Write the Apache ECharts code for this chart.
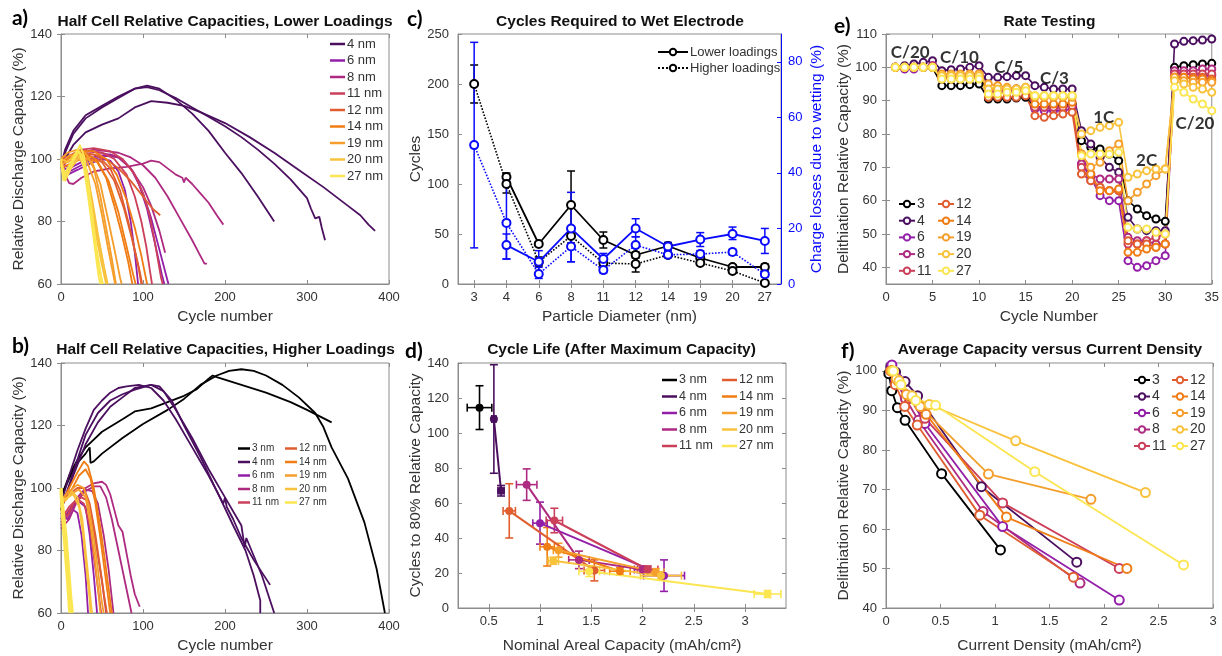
<!DOCTYPE html>
<html><head><meta charset="utf-8">
<script src="https://cdn.jsdelivr.net/npm/echarts@6/dist/echarts.min.js"></script>
<style>html,body{margin:0;padding:0;background:#fff}#c{width:1222px;height:656px}</style>
</head><body><div id="c"></div>
<script>
// ---------------- DATA ----------------
// Panel a: half cell relative capacities, lower loadings  [cycle, %]
const lowLoad4nm = [
 [[0,98],[5,102],[15,108],[30,113],[50,116.5],[70,119.5],[90,122.5],[105,123.5],[120,122.5],[140,119],[160,114.5],[180,109],[200,102],[220,95.5],[240,88],[260,80]],
 [[0,98],[5,103],[15,109],[30,114],[50,117],[70,120],[90,122.5],[105,123],[120,122],[140,119.5],[160,116.5],[180,113.5],[200,110.5],[220,107],[240,103],[260,98.5],[280,93.5],[300,87.5],[305,84],[310,81],[315,81.5],[318,78],[322,74]],
 [[0,97],[5,100],[15,104.5],[30,108.5],[50,111],[70,113],[90,116.5],[110,118.5],[130,118],[150,117],[170,115],[200,111.5],[230,107],[260,102],[290,96.5],[320,91],[350,85],[365,82],[375,79],[383,77]]
];
const lowLoad6nm = [
 [[0,97],[8,95],[20,96.5],[35,98.5],[50,100],[60,99.5],[70,96],[78,90],[85,80],[90,70],[94,60]],
 [[0,98],[10,96],[25,98],[40,100],[55,101],[70,100.5],[85,97],[95,92],[105,84],[112,76],[118,69],[123,63],[126,60]],
 [[0,99],[10,97],[25,99],[45,101],[60,101.5],[75,100],[88,96],[100,89],[110,81],[118,73],[125,66],[131,60]]
];
const lowLoad8nm = [
 [[0,99],[5,95],[10,92.3],[15,92],[25,94],[40,96],[60,97],[80,97.5],[100,98.5],[110,99.5],[120,99],[130,97],[140,95],[148,94],[150,92.5],[152,94],[160,92],[170,89],[180,86],[190,82],[198,79]],
 [[0,98],[10,100],[25,102],[40,103],[55,102.5],[70,102],[85,100.5],[100,98],[115,94],[130,88],[145,81],[160,74],[170,69],[175,66.5],[178,66.5]],
 [[0,98],[15,101],[30,102.5],[50,102],[70,100.5],[85,97],[100,91],[110,85],[120,77],[127,70]]
];
const lowLoad11nm = [
 [[0,100],[10,101],[25,103],[40,103.5],[60,102.5],[75,100],[90,95],[100,89],[108,82],[114,74],[118,68],[122,62],[124,60]],
 [[0,99],[15,101],[30,102.5],[50,102],[65,100],[80,95],[90,88],[98,80],[104,72],[108,65],[111,60]]
];
const lowLoad12nm = [
 [[0,98],[10,100],[25,101.5],[40,101.5],[55,100],[70,97],[85,93],[100,88],[112,84],[121,82]],
 [[0,99],[15,101.5],[30,102],[45,101],[60,97],[72,90],[82,80],[90,71],[96,64],[99,60]],
 [[0,98],[15,100],[35,101],[50,99],[65,93],[77,84],[86,75],[94,66],[98,60]]
];
const lowLoad14nm = [
 [[0,99],[10,101],[25,102.5],[40,102.5],[55,100],[68,95],[80,87],[90,78],[98,69],[105,60]],
 [[0,98],[12,100],[28,101.5],[42,100],[55,94],[65,85],[74,76],[82,67],[87,60]],
 [[0,97],[15,99],[30,100.5],[45,99],[58,93],[70,83],[80,72],[88,63],[91,60]]
];
const lowLoad19nm = [
 [[0,100],[8,102],[20,103],[30,102],[40,97],[48,88],[55,78],[62,68],[67,60]],
 [[0,99],[10,101],[22,101.5],[32,99],[42,92],[50,82],[57,72],[63,64],[66,60]],
 [[0,98],[10,100],[25,101],[38,99],[48,92],[58,80],[66,70],[72,62],[74,60]]
];
const lowLoad20nm = [
 [[0,99],[6,95],[12,98],[20,101],[26,100],[32,94],[38,84],[44,74],[50,66],[55,60]],
 [[0,100],[8,99],[18,102],[25,101.5],[32,96],[38,86],[45,75],[52,66],[57,60]],
 [[0,98],[5,93],[12,97],[22,100.5],[30,97],[38,87],[45,76],[52,66],[56,60]]
];
const lowLoad27nm = [
 [[0,100],[4,93],[10,96],[18,101],[23,104.5],[28,101],[33,93],[38,83],[43,72],[48,64],[51,60]],
 [[0,99],[3,93],[8,97],[15,100],[22,102.5],[28,97],[33,88],[38,78],[42,70],[46,62],[48,60]],
 [[0,98],[5,95],[12,99],[20,103],[26,101],[32,92],[37,82],[42,73],[46,65],[50,60]]
];

// Panel b: higher loadings
const highLoad3nm = [
 [[0,97],[10,103],[20,108],[30,111],[35,113],[36,108],[40,108.5],[50,111],[75,116],[100,120.5],[130,125],[150,128.5],[170,133],[190,136],[205,137.5],[220,138],[235,137.5],[250,136],[270,133],[290,129],[310,124],[320,119.5],[330,113],[350,103],[370,89],[385,74],[395,60]],
 [[0,97],[10,104],[20,109],[30,113],[50,118],[75,122],[90,124.5],[110,125.5],[130,127.5],[150,129.5],[165,131.5],[180,135],[185,136],[190,135.5],[220,133],[250,130.5],[280,127.5],[300,125],[315,123],[330,121]]
];
const highLoad4nm = [
 [[0,95],[10,104],[20,112],[30,119],[40,125],[50,128],[60,130.5],[70,132],[80,132.5],[95,133],[110,132],[125,128],[140,122],[160,113],[180,104],[198,95],[200,97],[202,94],[210,90],[220,84],[235,77],[255,69]],
 [[0,93],[15,105],[30,117],[45,124],[60,128],[75,130],[90,131.5],[110,133],[120,132.5],[135,128],[150,120],[170,110],[190,99],[210,88],[225,80],[235,72],[243,64],[243,60]],
 [[0,93],[15,104],[30,114],[45,121],[60,126],[75,129],[90,132],[110,133],[125,131],[140,125],[160,116],[180,106],[200,97],[220,88],[224,81],[226,84],[245,72],[260,60]]
];
const highLoad6nm = [
 [[0,92],[8,90],[15,93],[20,92],[25,85],[30,72],[33,60]],
 [[0,90],[10,92],[20,96],[30,94],[35,85],[40,72],[44,60]]
];
const highLoad8nm = [
 [[0,88],[10,92],[20,97],[30,100],[40,101.5],[50,102],[55,101],[60,98],[65,93],[70,88],[75,86],[80,79],[85,72],[90,66],[96,62]],
 [[0,87],[10,90],[20,96],[30,99],[40,100.5],[48,100.5],[55,97],[62,90],[70,80],[78,70],[86,60]],
 [[0,89],[10,93],[20,97],[30,99.5],[38,99],[45,95],[52,85],[58,74],[64,60]]
];
const highLoad11nm = [
 [[0,93],[8,91],[15,95],[25,97],[32,96],[38,90],[44,80],[50,70],[55,60]],
 [[0,90],[10,94],[20,96.5],[28,95],[35,88],[40,78],[45,68],[49,60]]
];
const highLoad12nm = [
 [[0,96],[10,98],[20,100],[28,100],[35,95],[42,85],[48,74],[53,65],[56,60]]
];
const highLoad14nm = [
 [[0,95],[10,100],[20,105],[28,108.5],[33,107],[40,100],[47,89],[53,78],[58,68],[62,60]],
 [[0,94],[12,99],[22,104],[30,106],[36,103],[42,95],[48,84],[53,74],[58,64],[60,60]]
];
const highLoad19nm = [
 [[0,96],[10,99],[20,101],[28,100],[34,94],[40,84],[45,74],[49,65],[52,60]],
 [[0,95],[12,98],[22,99.5],[30,97],[36,88],[41,78],[45,68],[48,60]]
];
const highLoad20nm = [
 [[0,97],[6,96],[13,99],[20,97],[26,90],[30,80],[34,70],[37,62],[38,60]],
 [[0,96],[8,97],[15,98],[22,94],[27,85],[31,74],[35,64],[36,60]]
];
const highLoad27nm = [
 [[0,100],[3,92],[6,85],[9,75],[12,65],[14,60]],
 [[0,99],[2,90],[5,80],[8,70],[10,62],[11,60]]
];

// Panel c: cycles required to wet electrode
const diameters = ['3','4','6','8','11','12','14','19','20','27'];
const cyclesLower  = [null,107,40,79,44,29,38,26,17,17];
const cyclesLowerErr = [null,[101,111],[38,42],[46,113],[36,52],[26,32],[35,41],[24,28],[15,19],[14,20]];
const cyclesHigher = [200,100,22,48,21,20,29,21,13,1];
const cyclesHigherErr = [[181,219],[91,108],[18,27],[41,55],[18,24],[12,28],[27,31],[19,23],[11,15],[0,2]];
const lossLower  = [null,14,8,20,9,20,13.5,16,18,15.5];
const lossLowerErr = [null,[9,18],[4,12],[8,33],[7,11],[17,23.5],[12,15],[13.5,18.5],[16,20.5],[11,20]];
const lossHigher = [50,22,3.6,13.5,5,14,10.5,10.8,11.5,3.5];
const lossHigherErr = [[13,87],[9,37],[2,6],[8,19],[4,6.5],[11,17],[9.5,11.5],[9.5,12],[10.5,12.5],[2.5,4.5]];

// Panel d: cycle life  [areal capacity, cycles, xErr, yErr]
const life3nm  = [[0.41,114.5,0.12,12.5]];
const life4nm  = [[0.55,108,0.02,31],[0.62,67,0.03,3]];
const life6nm  = [[1.00,48.5,0.07,12],[2.21,18.5,0.2,9]];
const life8nm  = [[0.87,70.5,0.1,9],[1.38,27.5,0.1,5],[2.00,22,0.08,2]];
const life11nm = [[1.14,50,0.08,7],[2.05,22,0.1,2]];
const life12nm = [[0.70,55.5,0.06,15.5],[1.53,21.5,0.1,6]];
const life14nm = [[1.07,35,0.07,11],[1.78,21,0.1,2]];
const life19nm = [[1.18,33,0.05,4],[2.13,20.5,0.08,2]];
const life20nm = [[1.13,27,0.05,2],[2.18,18.5,0.2,2]];
const life27nm = [[1.48,21,0.1,3],[3.22,8,0.13,2]];

// Panel e: rate testing
const rateCycles = [1,2,3,4,5,6,7,8,9,10,11,12,13,14,15,16,17,18,19,20,21,22,23,24,25,26,27,28,29,30,31,32,33,34,35];
const rate3  = [100,100,100,100,100, 94.5,94.5,94.5,94.8,95, 90.5,90.5,90.5,90.8,91, 88,88,88.5,88.5,89, 78,76,75.5,74,72, 60,57.5,55.5,54.5,53.8, 100,100.5,100.8,101,101.2];
const rate4  = [100,100.5,101,101.5,102, 99,99.3,99.5,100,100.5, 97,97,97.2,97.5,97.5, 94.5,94,93.5,93.5,93.5, 81,77,73,70,68.5, 55,51.5,51,51,51, 107,107.8,108,108.2,108.5];
const rate6  = [100,99.5,99.5,100,100.5, 97,97,97,97.2,97.5, 93,93,93,93.5,93.5, 87.5,87,87,87,87.5, 71,67,61.5,60,60, 42,40,40.5,42,43.5, 98.5,98,98,97.5,97.5];
const rate8  = [100,100,100,100,100.5, 97.5,97.5,97.5,97.8,98, 93,93,93,93.5,93.5, 88,88,88,88,88.5, 71,68,66.5,66.5,66.5, 49,48,48,47,47, 99,99,99,99.5,99.5];
const rate11 = [100,100,100,100,100, 97,97,97,97,97.5, 92.5,92.5,92.5,93,93, 88,88,88,88,88.5, 70,66,64,63,63, 47,47,48,49,50, 98,98,98,98,98];
const rate12 = [100,100,100,100,100, 96.5,96.5,96.5,96.5,97, 91,91,91,91,91.5, 85.5,85,85.5,86,86.5, 68,66,64,63,63, 48,47,47,46,47, 97,97,97,97,96.5];
const rate14 = [100,100,100,100,100, 97.5,97.5,97.5,97.5,97.5, 93.5,93.5,93.5,93.5,94, 89,89,89,89,89.5, 74,68,63,63,63.5, 44.5,44.5,45.5,46,47, 97,97,96.5,96.5,96];
const rate19 = [100,100,100,100,100, 98,98,98,98,98, 95,94.5,94,93.5,93, 91,91,91,91,91, 74,70,71.5,75,77, 60,62.5,65,67.5,69.5, 97,96,95.5,95.5,95.5];
const rate20 = [100,100,100,100,100, 97.5,97.5,97.5,97.5,97.5, 93.5,93.5,93.5,93.5,94, 91.5,91.5,91.5,91.5,91.5, 80,81,82,82.5,83.5, 67,68,69,69.5,69.5, 96,95,94,93.5,92.5];
const rate27 = [100,100,100,100,100, 96.5,96.5,96.5,96.5,96.5, 92,92,92.5,92.5,93, 91.5,91.5,91.5,91.5,91.5, 73.5,74,74,74,74.5, 52,51.5,51.5,50.5,50, 94,92.5,90.5,89,87];
const rateLabels = ['C/20','C/10','C/5','C/3','1C','2C','C/20'];
const rateLabelCycle = [2.6,7.9,13.2,18.1,23.4,28.0,33.2];
const rateLabelValue = [104.3,102.8,99.8,96.5,84.9,72,83];

// Panel f: average capacity vs current density [mAh/cm2, %]
const dens3  = [[0.026,99.3],[0.053,95],[0.105,90.7],[0.175,87.5],[0.51,74],[1.05,54.7]];
const dens4  = [[0.044,101],[0.088,99.7],[0.175,97.3],[0.29,93.7],[0.875,70.7],[1.75,51.6]];
const dens6  = [[0.054,101.5],[0.107,98],[0.214,93.5],[0.357,86.7],[1.07,60.6],[2.14,42]];
const dens8  = [[0.045,100],[0.089,97.5],[0.178,93],[0.297,87.5],[0.89,64.4],[1.78,46.3]];
const dens11 = [[0.054,100],[0.107,97],[0.214,93],[0.357,88],[1.07,66.6],[2.14,50]];
const dens12 = [[0.043,100],[0.086,96.5],[0.172,91],[0.287,86.3],[0.86,63.5],[1.72,47.8]];
const dens14 = [[0.055,100],[0.11,97.5],[0.221,93.5],[0.368,89],[1.105,63],[2.21,50]];
const dens19 = [[0.047,100],[0.094,98],[0.188,94],[0.313,91],[0.94,73.9],[1.88,67.5]];
const dens20 = [[0.06,100],[0.119,97.5],[0.238,93.7],[0.397,91.5],[1.19,82.3],[2.38,69.2]];
const dens27 = [[0.068,100],[0.137,96.5],[0.273,92.5],[0.455,91.3],[1.365,74.5],[2.73,50.9]];

// ---------------- STYLE ----------------
const COLORS = {'3':'#000000','4':'#4b0f5f','6':'#931fa8','8':'#ae2a80','11':'#cc3f5a','12':'#e05d30','14':'#f07c14','19':'#f59e2c','20':'#f8c23c','27':'#fbe651'};
const BLUE = '#0a0aff';
const GREY = '#8c8c8c';
const TXT = '#333333';
const FONT = 'Liberation Sans';

const chart = echarts.init(document.getElementById('c'), null, {renderer:'canvas'});

const grids = [
  {left:61, top:34, width:328, height:250},
  {left:61, top:363, width:328, height:250},
  {left:458, top:34, width:323, height:250},
  {left:458, top:363, width:328, height:245},
  {left:886, top:34, width:327, height:250},
  {left:886, top:363, width:327, height:245}
].map(g => Object.assign({show:true, borderColor:GREY, borderWidth:1, backgroundColor:'#fff'}, g));

const tick = (color) => ({show:true, inside:true, length:4, lineStyle:{color:color||GREY}});
const lbl = (extra) => Object.assign({color:TXT, fontSize:13, fontFamily:FONT}, extra||{});
const nameStyle = {color:TXT, fontSize:15.5, fontFamily:FONT};

function mainAxis(gi, o){
  return Object.assign({
    gridIndex:gi, type:'value', nameLocation:'middle', nameTextStyle:nameStyle,
    axisLine:{show:true, lineStyle:{color:GREY}}, axisTick:tick(), splitLine:{show:false},
    axisLabel:lbl({margin:7})
  }, o);
}
function mirrorAxis(gi, o){
  return Object.assign({
    gridIndex:gi, type:'value', axisLine:{show:false}, axisTick:tick(), splitLine:{show:false},
    axisLabel:{show:false}
  }, o);
}
const range = (a,b,s) => { const r=[]; for(let v=a; v<=b+1e-9; v+=s) r.push(+v.toFixed(3)); return r; };

const xAxes = [
  mainAxis(0,{min:0,max:400,interval:100,name:'Cycle number',nameGap:25}),
  mirrorAxis(0,{position:'top',min:0,max:400,interval:100}),
  mainAxis(1,{min:0,max:400,interval:100,name:'Cycle number',nameGap:25}),
  mirrorAxis(1,{position:'top',min:0,max:400,interval:100}),
  mainAxis(2,{type:'category',data:diameters,name:'Particle Diameter (nm)',nameGap:25,boundaryGap:true,axisTick:Object.assign(tick(),{alignWithLabel:true})}),
  mirrorAxis(2,{type:'category',position:'top',data:diameters,boundaryGap:true,axisTick:Object.assign(tick(),{alignWithLabel:true})}),
  mainAxis(3,{min:0.2,max:3.4,name:'Nominal Areal Capacity (mAh/cm²)',nameGap:30,
     axisLabel:lbl({margin:7,customValues:range(0.5,3,0.5)}),axisTick:Object.assign(tick(),{customValues:range(0.5,3,0.5)})}),
  mirrorAxis(3,{position:'top',min:0.2,max:3.4,axisTick:Object.assign(tick(),{customValues:range(0.5,3,0.5)})}),
  mainAxis(4,{min:0,max:35,interval:5,name:'Cycle Number',nameGap:25}),
  mirrorAxis(4,{position:'top',min:0,max:35,interval:5}),
  mainAxis(5,{min:0,max:3,interval:0.5,name:'Current Density (mAh/cm²)',nameGap:30}),
  mirrorAxis(5,{position:'top',min:0,max:3,interval:0.5})
];
const yAxes = [
  mainAxis(0,{min:60,max:140,interval:20,name:'Relative Discharge Capacity (%)',nameGap:30,nameRotate:90,axisLabel:lbl({margin:9})}),
  mirrorAxis(0,{position:'right',min:60,max:140,interval:20}),
  mainAxis(1,{min:60,max:140,interval:20,name:'Relative Discharge Capacity (%)',nameGap:30,nameRotate:90,axisLabel:lbl({margin:9})}),
  mirrorAxis(1,{position:'right',min:60,max:140,interval:20}),
  mainAxis(2,{min:0,max:250,interval:50,name:'Cycles',nameGap:32,nameRotate:90,axisLabel:lbl({margin:9})}),
  {gridIndex:2,type:'value',position:'right',min:0,max:90,name:'Charge losses due to wetting (%)',nameLocation:'middle',nameRotate:90,nameGap:28,
   nameTextStyle:Object.assign({},nameStyle,{color:BLUE}),
   axisLine:{show:true,lineStyle:{color:BLUE}},axisTick:Object.assign(tick(BLUE),{customValues:[0,20,40,60,80]}),splitLine:{show:false},
   axisLabel:{color:BLUE,fontSize:13,fontFamily:FONT,margin:7,customValues:[0,20,40,60,80]}},
  mainAxis(3,{min:0,max:140,interval:20,name:'Cycles to 80% Relative Capacity',nameGap:32,nameRotate:90,axisLabel:lbl({margin:9})}),
  mirrorAxis(3,{position:'right',min:0,max:140,interval:20}),
  mainAxis(4,{min:35,max:110,name:'Delithiation Relative Capacity (%)',nameGap:33,nameRotate:90,
     axisLabel:lbl({margin:9,customValues:range(40,110,10)}),axisTick:Object.assign(tick(),{customValues:range(40,110,10)})}),
  mirrorAxis(4,{position:'right',min:35,max:110,axisTick:Object.assign(tick(),{customValues:range(40,110,10)})}),
  mainAxis(5,{min:40,max:102,name:'Delithiation Relative Capacity (%)',nameGap:33,nameRotate:90,
     axisLabel:lbl({margin:9,customValues:range(40,100,10)}),axisTick:Object.assign(tick(),{customValues:range(40,100,10)})}),
  mirrorAxis(5,{position:'right',min:40,max:102,axisTick:Object.assign(tick(),{customValues:range(40,100,10)})})
];

const series = [];
function addCurves(gi, key, curves, width){
  const color = COLORS[key];
  curves.forEach(c => series.push({
    type:'line', name:key+' nm', xAxisIndex:2*gi, yAxisIndex:2*gi, data:c,
    symbol:'none', showSymbol:false, color:color,
    lineStyle:{width:width||1.8, color:color}, clip:true
  }));
}
// panel a
[['4',lowLoad4nm],['6',lowLoad6nm],['8',lowLoad8nm],['11',lowLoad11nm],['12',lowLoad12nm],['14',lowLoad14nm],['19',lowLoad19nm],['20',lowLoad20nm],['27',lowLoad27nm]]
  .forEach(([k,c]) => addCurves(0,k,c));
// panel b
[['3',highLoad3nm],['4',highLoad4nm],['6',highLoad6nm],['8',highLoad8nm],['11',highLoad11nm],['12',highLoad12nm],['14',highLoad14nm],['19',highLoad19nm],['20',highLoad20nm],['27',highLoad27nm]]
  .forEach(([k,c]) => addCurves(1,k,c,k==='27'?3:1.8));

// error bar renderers
function vErr(params, api){
  const x = api.value(0), lo = api.value(1), hi = api.value(2);
  const a = api.coord([x, lo]), b = api.coord([x, hi]);
  const st = {stroke: api.visual('color'), lineWidth: 1.5};
  const cap = 4;
  return {type:'group', children:[
    {type:'line', shape:{x1:a[0],y1:a[1],x2:b[0],y2:b[1]}, style:st},
    {type:'line', shape:{x1:a[0]-cap,y1:a[1],x2:a[0]+cap,y2:a[1]}, style:st},
    {type:'line', shape:{x1:b[0]-cap,y1:b[1],x2:b[0]+cap,y2:b[1]}, style:st}
  ]};
}
function xyErr(params, api){
  const x = api.value(0), y = api.value(1), ex = api.value(2), ey = api.value(3);
  const t = api.coord([x, y+ey]), bt = api.coord([x, y-ey]);
  const l = api.coord([x-ex, y]), r = api.coord([x+ex, y]);
  const st = {stroke: api.visual('color'), lineWidth: 1.6};
  const cap = 4;
  return {type:'group', children:[
    {type:'line', shape:{x1:t[0],y1:t[1],x2:bt[0],y2:bt[1]}, style:st},
    {type:'line', shape:{x1:t[0]-cap,y1:t[1],x2:t[0]+cap,y2:t[1]}, style:st},
    {type:'line', shape:{x1:bt[0]-cap,y1:bt[1],x2:bt[0]+cap,y2:bt[1]}, style:st},
    {type:'line', shape:{x1:l[0],y1:l[1],x2:r[0],y2:r[1]}, style:st},
    {type:'line', shape:{x1:l[0],y1:l[1]-cap,x2:l[0],y2:l[1]+cap}, style:st},
    {type:'line', shape:{x1:r[0],y1:r[1]-cap,x2:r[0],y2:r[1]+cap}, style:st}
  ]};
}
const errData = (arr) => arr.map((e,i) => e ? [i, e[0], e[1]] : null).filter(Boolean);

// panel c
function cSeries(name, vals, errs, yIdx, color, dotted){
  series.push({type:'custom', name:name+' err', xAxisIndex:4, yAxisIndex:yIdx, renderItem:vErr,
    data:errData(errs), encode:{x:0,y:[1,2]}, itemStyle:{color:color}, z:2});
  series.push({type:'line', name:name, xAxisIndex:4, yAxisIndex:yIdx, data:vals,
    symbol:'emptyCircle', symbolSize:8, color:color, itemStyle:{color:color, borderWidth:1.6},
    lineStyle:{color:color, width:dotted?1.6:1.8, type:dotted?'dotted':'solid'}, connectNulls:false, z:3});
}
cSeries('Lower loadings', cyclesLower, cyclesLowerErr, 4, '#000', false);
cSeries('Higher loadings', cyclesHigher, cyclesHigherErr, 4, '#000', true);
cSeries('Lower loadings losses', lossLower, lossLowerErr, 5, BLUE, false);
cSeries('Higher loadings losses', lossHigher, lossHigherErr, 5, BLUE, true);

// panel d
[['3',life3nm],['4',life4nm],['6',life6nm],['8',life8nm],['11',life11nm],['12',life12nm],['14',life14nm],['19',life19nm],['20',life20nm],['27',life27nm]]
  .forEach(([k,d]) => {
    const color = COLORS[k];
    series.push({type:'line', name:k+' nm', xAxisIndex:6, yAxisIndex:6, data:d.map(p=>[p[0],p[1]]),
      symbol:'circle', symbolSize:8, color:color, itemStyle:{color:color}, lineStyle:{color:color,width:2}});
    series.push({type:'custom', name:k+' nm err', xAxisIndex:6, yAxisIndex:6, renderItem:xyErr,
      data:d, encode:{x:0,y:1}, itemStyle:{color:color}});
  });

// panel e
[['3',rate3],['4',rate4],['6',rate6],['8',rate8],['11',rate11],['12',rate12],['14',rate14],['19',rate19],['20',rate20],['27',rate27]]
  .forEach(([k,v]) => {
    const color = COLORS[k];
    series.push({type:'line', name:k, xAxisIndex:8, yAxisIndex:8, data:rateCycles.map((c,i)=>[c,v[i]]),
      symbol:'emptyCircle', symbolSize:7, color:color, itemStyle:{color:color,borderWidth:1.5},
      lineStyle:{color:color,width:1.6}});
  });
series.push({type:'scatter', name:'rate labels', xAxisIndex:8, yAxisIndex:8, symbolSize:1,
  itemStyle:{color:'rgba(0,0,0,0)'}, z:10,
  data:rateLabels.map((t,i)=>({name:t, value:[rateLabelCycle[i], rateLabelValue[i]]})),
  label:{show:true, position:'inside', formatter:'{b}', fontSize:17, fontWeight:'bold', fontFamily:'Lato', color:'#000'}});

// panel f
[['3',dens3],['4',dens4],['6',dens6],['8',dens8],['11',dens11],['12',dens12],['14',dens14],['19',dens19],['20',dens20],['27',dens27]]
  .forEach(([k,d]) => {
    const color = COLORS[k];
    series.push({type:'line', name:k, xAxisIndex:10, yAxisIndex:10, data:d,
      symbol:'emptyCircle', symbolSize:9, color:color, itemStyle:{color:color,borderWidth:1.6},
      lineStyle:{color:color,width:1.8}});
  });

const nm = (ks) => ks.map(k => k+' nm');
function lineLegend(left, top, data, fs, lh, iw, gap){
  return {left:left, top:top, orient:'vertical', data:data, icon:'rect', itemWidth:iw, itemHeight:2.5,
    itemGap:gap, padding:0, selectedMode:false,
    textStyle:{fontSize:fs, lineHeight:lh, color:TXT, fontFamily:FONT, padding:[0,0,0,-3]}};
}
function markLegend(left, top, data, fs, lh, iw, gap){
  return {left:left, top:top, orient:'vertical', data:data, itemWidth:iw, itemHeight:8,
    itemGap:gap, padding:0, selectedMode:false,
    textStyle:{fontSize:fs, lineHeight:lh, color:TXT, fontFamily:FONT, padding:[0,0,0,-3]}};
}
const legends = [
  lineLegend(330, 37, nm(['4','6','8','11','12','14','19','20','27']), 13, 14, 15, 2.5),
  lineLegend(238, 443, nm(['3','4','6','8','11']), 10, 11, 12, 2.5),
  lineLegend(285, 443, nm(['12','14','19','20','27']), 10, 11, 12, 2.5),
  markLegend(657, 45, ['Lower loadings','Higher loadings'], 13, 14, 30, 2),
  lineLegend(662, 373, nm(['3','4','6','8','11']), 12.5, 14, 15, 2.5),
  lineLegend(722, 373, nm(['12','14','19','20','27']), 12.5, 14, 15, 2.5),
  markLegend(898, 197, ['3','4','6','8','11'], 14, 14, 16, 2.7),
  markLegend(937, 197, ['12','14','19','20','27'], 14, 14, 16, 2.7),
  markLegend(1133, 373, ['3','4','6','8','11'], 14, 14, 16, 2.5),
  markLegend(1171, 373, ['12','14','19','20','27'], 14, 14, 16, 2.5)
];

const titleStyle = {fontSize:15.5, fontWeight:'bold', color:'#111', fontFamily:FONT};
const titles = [
  ['Half Cell Relative Capacities, Lower Loadings',225,14],
  ['Half Cell Relative Capacities, Higher Loadings',225.5,342],
  ['Cycles Required to Wet Electrode',620,13.5],
  ['Cycle Life (After Maximum Capacity)',621.5,342],
  ['Rate Testing',1049.5,14],
  ['Average Capacity versus Current Density',1050,342]
].map(([t,x,y]) => ({text:t, left:x, top:y, textAlign:'center', padding:0, textStyle:titleStyle}));

const letters = [['a)',12,8],['b)',12,336],['c)',407,9],['d)',405,341],['e)',834,16],['f)',841,341]]
  .map(([t,x,y]) => ({type:'text', x:x, y:y, silent:true,
    style:{text:t, fontSize:21, fontWeight:'bold', fontFamily:'Lato', fill:'#000', verticalAlign:'top'}}));

chart.setOption({
  animation:false,
  backgroundColor:'#fff',
  title:titles,
  grid:grids,
  xAxis:xAxes,
  yAxis:yAxes,
  legend:legends,
  series:series,
  graphic:letters
});
</script></body></html>
